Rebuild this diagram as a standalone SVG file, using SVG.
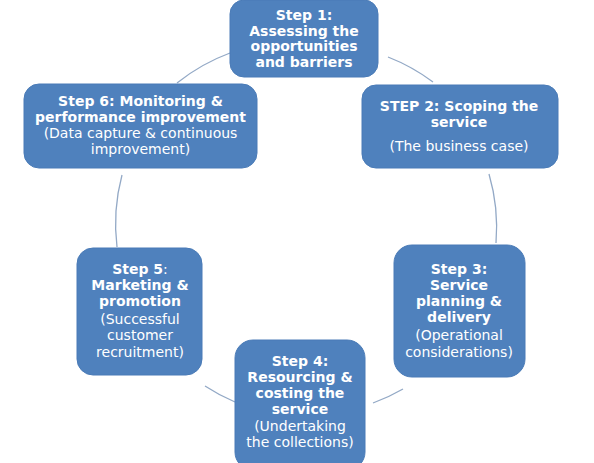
<svg xmlns="http://www.w3.org/2000/svg" width="594" height="463" viewBox="0 0 594 463">
<style>
.box{fill:#4F81BD;stroke:#4A7BB7;stroke-width:1}
.conn{fill:none;stroke:#93A9C6;stroke-width:1.3}
text{font-family:"DejaVu Sans","Verdana",sans-serif;font-size:14px;fill:#fff;text-anchor:middle}
.b{font-weight:bold}
</style>
<rect width="594" height="463" fill="#fff"/>
<g id="connectors">
<path class="conn" d="M177 83 A190 190 0 0 1 230 53"/>
<path class="conn" d="M388 57 A190 190 0 0 1 433 82"/>
<path class="conn" d="M489 174 A190 190 0 0 1 496 243"/>
<path class="conn" d="M403 389 A190 190 0 0 1 373 403"/>
<path class="conn" d="M235 402 A190 190 0 0 1 205 386"/>
<path class="conn" d="M117 247 A190 190 0 0 1 122 175"/>
</g>
<g id="step1">
<rect class="box" x="230" y="0" width="148" height="77" rx="14"/>
<text class="b" x="304" y="20">Step 1:</text>
<text class="b" x="304" y="35.5">Assessing the</text>
<text class="b" x="304" y="51">opportunities</text>
<text class="b" x="304" y="66.5">and barriers</text>
</g>
<g id="step2">
<rect class="box" x="362" y="85" width="196" height="83" rx="14"/>
<text class="b" x="459" y="110.5">STEP 2: Scoping the</text>
<text class="b" x="459" y="127">service</text>
<text x="459" y="151">(The business case)</text>
</g>
<g id="step3">
<rect class="box" x="394" y="245" width="131" height="132" rx="18"/>
<text class="b" x="459" y="273.5">Step 3:</text>
<text class="b" x="459" y="289.5">Service</text>
<text class="b" x="459" y="305.5">planning &amp;</text>
<text class="b" x="459" y="321.5">delivery</text>
<text x="459" y="340">(Operational</text>
<text x="459" y="356.5">considerations)</text>
</g>
<g id="step4">
<rect class="box" x="235" y="340" width="130" height="130" rx="18"/>
<text class="b" x="300" y="366">Step 4:</text>
<text class="b" x="300" y="382">Resourcing &amp;</text>
<text class="b" x="300" y="398">costing the</text>
<text class="b" x="300" y="414">service</text>
<text x="300" y="431">(Undertaking</text>
<text x="300" y="447">the collections)</text>
</g>
<g id="step5">
<rect class="box" x="77" y="248" width="125" height="127" rx="16"/>
<text class="b" x="140" y="273.5">Step 5<tspan font-weight="normal">:</tspan></text>
<text class="b" x="140" y="289.5">Marketing &amp;</text>
<text class="b" x="140" y="305.5">promotion</text>
<text x="140" y="323.5">(Successful</text>
<text x="140" y="340">customer</text>
<text x="140" y="356.5">recruitment)</text>
</g>
<g id="step6">
<rect class="box" x="24" y="84" width="233" height="84" rx="15"/>
<text class="b" x="140.5" y="106">Step 6: Monitoring &amp;</text>
<text class="b" x="140.5" y="122">performance improvement</text>
<text x="140.5" y="137.5">(Data capture &amp; continuous</text>
<text x="140.5" y="153.5">improvement)</text>
</g>
</svg>
